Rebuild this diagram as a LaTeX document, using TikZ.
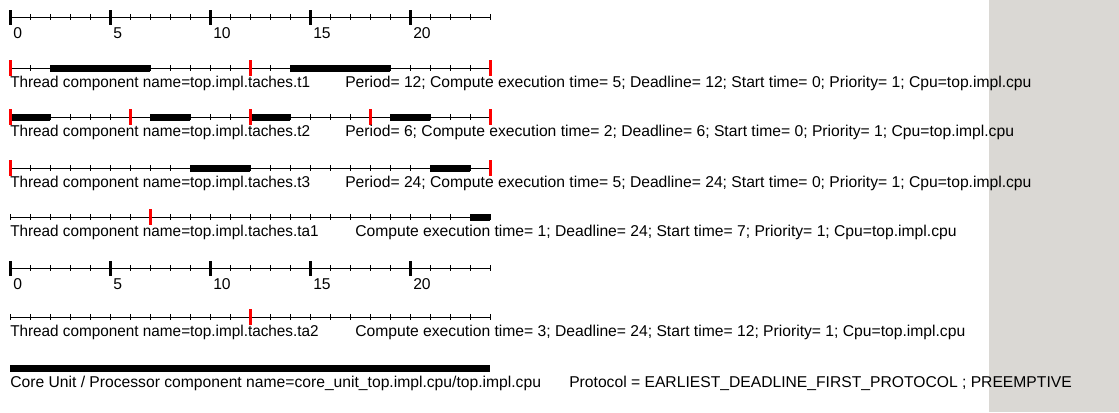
\documentclass[tikz,border=0pt]{standalone}
\usepackage{fontspec}
\setmainfont{Liberation Sans}
\definecolor{panelgray}{RGB}{218,216,212}
\newcommand{\thrname}[1]{\scalebox{0.977}[1]{#1}}
\begin{document}
\begin{tikzpicture}[x=0.75pt,y=-0.75pt,
  axisline/.style={line width=0.75pt},
  minortick/.style={line width=0.75pt},
  majortick/.style={line width=2.25pt},
  release/.style={red, line width=2.25pt},
  runbar/.style={line width=5.25pt},
  lbl/.style={anchor=base west, inner sep=0pt, font=\fontsize{11.75}{14}\selectfont}]
\useasboundingbox (0,0) rectangle (1119,412);
\fill[panelgray] (989,0) rectangle (1119,412);
% time axis (top)
\coordinate (ax1s) at (10,17);
\coordinate (ax1e) at (490,17);
\draw[axisline] (ax1s) -- (ax1e);
\foreach \k in {0,...,24} \draw[minortick] (10+20*\k,14) -- (10+20*\k,20);
\foreach \k/\v in {0/0,1/5,2/10,3/15,4/20}{
  \draw[majortick] (10+100*\k,10) -- (10+100*\k,25);
  \node[lbl] (ax1n\v) at (13+100*\k,38) {\v};
}
% t1
\coordinate (t1s) at (10,68);
\coordinate (t1e) at (490,68);
\draw[axisline] (t1s) -- (t1e);
\foreach \k in {0,...,24} \draw[minortick] (10+20*\k,65) -- (10+20*\k,71);
\draw[runbar] (50,68) -- (150,68);
\draw[runbar] (290,68) -- (390,68);
\foreach \k in {0,12,24} \draw[release] (10+20*\k,60) -- (10+20*\k,76);
\node[lbl] (t1name) at (10,87) {\thrname{Thread component name=top.impl.taches.t1}};
\node[lbl] (t1info) at (345,87) {Period= 12; Compute execution time= 5; Deadline= 12; Start time= 0; Priority= 1; Cpu=top.impl.cpu};
% t2
\coordinate (t2s) at (10,117);
\coordinate (t2e) at (490,117);
\draw[axisline] (t2s) -- (t2e);
\foreach \k in {0,...,24} \draw[minortick] (10+20*\k,114) -- (10+20*\k,120);
\foreach \a/\b in {0/2,7/9,12/14,19/21} \draw[runbar] (10+20*\a,117) -- (10+20*\b,117);
\foreach \k in {0,6,12,18,24} \draw[release] (10+20*\k,109) -- (10+20*\k,125);
\node[lbl] (t2name) at (10,136) {\thrname{Thread component name=top.impl.taches.t2}};
\node[lbl] (t2info) at (345,136) {Period= 6; Compute execution time= 2; Deadline= 6; Start time= 0; Priority= 1; Cpu=top.impl.cpu};
% t3
\coordinate (t3s) at (10,168);
\coordinate (t3e) at (490,168);
\draw[axisline] (t3s) -- (t3e);
\foreach \k in {0,...,24} \draw[minortick] (10+20*\k,165) -- (10+20*\k,171);
\draw[runbar] (190,168) -- (250,168);
\draw[runbar] (430,168) -- (470,168);
\foreach \k in {0,24} \draw[release] (10+20*\k,160) -- (10+20*\k,176);
\node[lbl] (t3name) at (10,187) {\thrname{Thread component name=top.impl.taches.t3}};
\node[lbl] (t3info) at (345,187) {Period= 24; Compute execution time= 5; Deadline= 24; Start time= 0; Priority= 1; Cpu=top.impl.cpu};
% ta1
\coordinate (ta1s) at (10,217);
\coordinate (ta1e) at (490,217);
\draw[axisline] (ta1s) -- (ta1e);
\foreach \k in {0,...,24} \draw[minortick] (10+20*\k,214) -- (10+20*\k,220);
\draw[runbar] (470,217) -- (490,217);
\draw[release] (150,209) -- (150,225);
\node[lbl] (ta1name) at (10,236) {\thrname{Thread component name=top.impl.taches.ta1}};
\node[lbl] (ta1info) at (355,236) {Compute execution time= 1; Deadline= 24; Start time= 7; Priority= 1; Cpu=top.impl.cpu};
% time axis (middle)
\coordinate (ax2s) at (10,268);
\coordinate (ax2e) at (490,268);
\draw[axisline] (ax2s) -- (ax2e);
\foreach \k in {0,...,24} \draw[minortick] (10+20*\k,265) -- (10+20*\k,271);
\foreach \k/\v in {0/0,1/5,2/10,3/15,4/20}{
  \draw[majortick] (10+100*\k,261) -- (10+100*\k,276);
  \node[lbl] (ax2n\v) at (13+100*\k,289) {\v};
}
% ta2
\coordinate (ta2s) at (10,317);
\coordinate (ta2e) at (490,317);
\draw[axisline] (ta2s) -- (ta2e);
\foreach \k in {0,...,24} \draw[minortick] (10+20*\k,314) -- (10+20*\k,320);
\draw[release] (250,309) -- (250,325);
\node[lbl] (ta2name) at (10,336) {\thrname{Thread component name=top.impl.taches.ta2}};
\node[lbl] (ta2info) at (355,336) {Compute execution time= 3; Deadline= 24; Start time= 12; Priority= 1; Cpu=top.impl.cpu};
% core unit
\coordinate (cpus) at (10,368.5);
\coordinate (cpue) at (490,368.5);
\draw[runbar] (cpus) -- (cpue);
\node[lbl] (cpuname) at (10,387) {Core Unit / Processor component name=core\_unit\_top.impl.cpu/top.impl.cpu};
\node[lbl] (cpuinfo) at (569,387) {Protocol = EARLIEST\_DEADLINE\_FIRST\_PROTOCOL ; PREEMPTIVE};
\end{tikzpicture}
\end{document}
